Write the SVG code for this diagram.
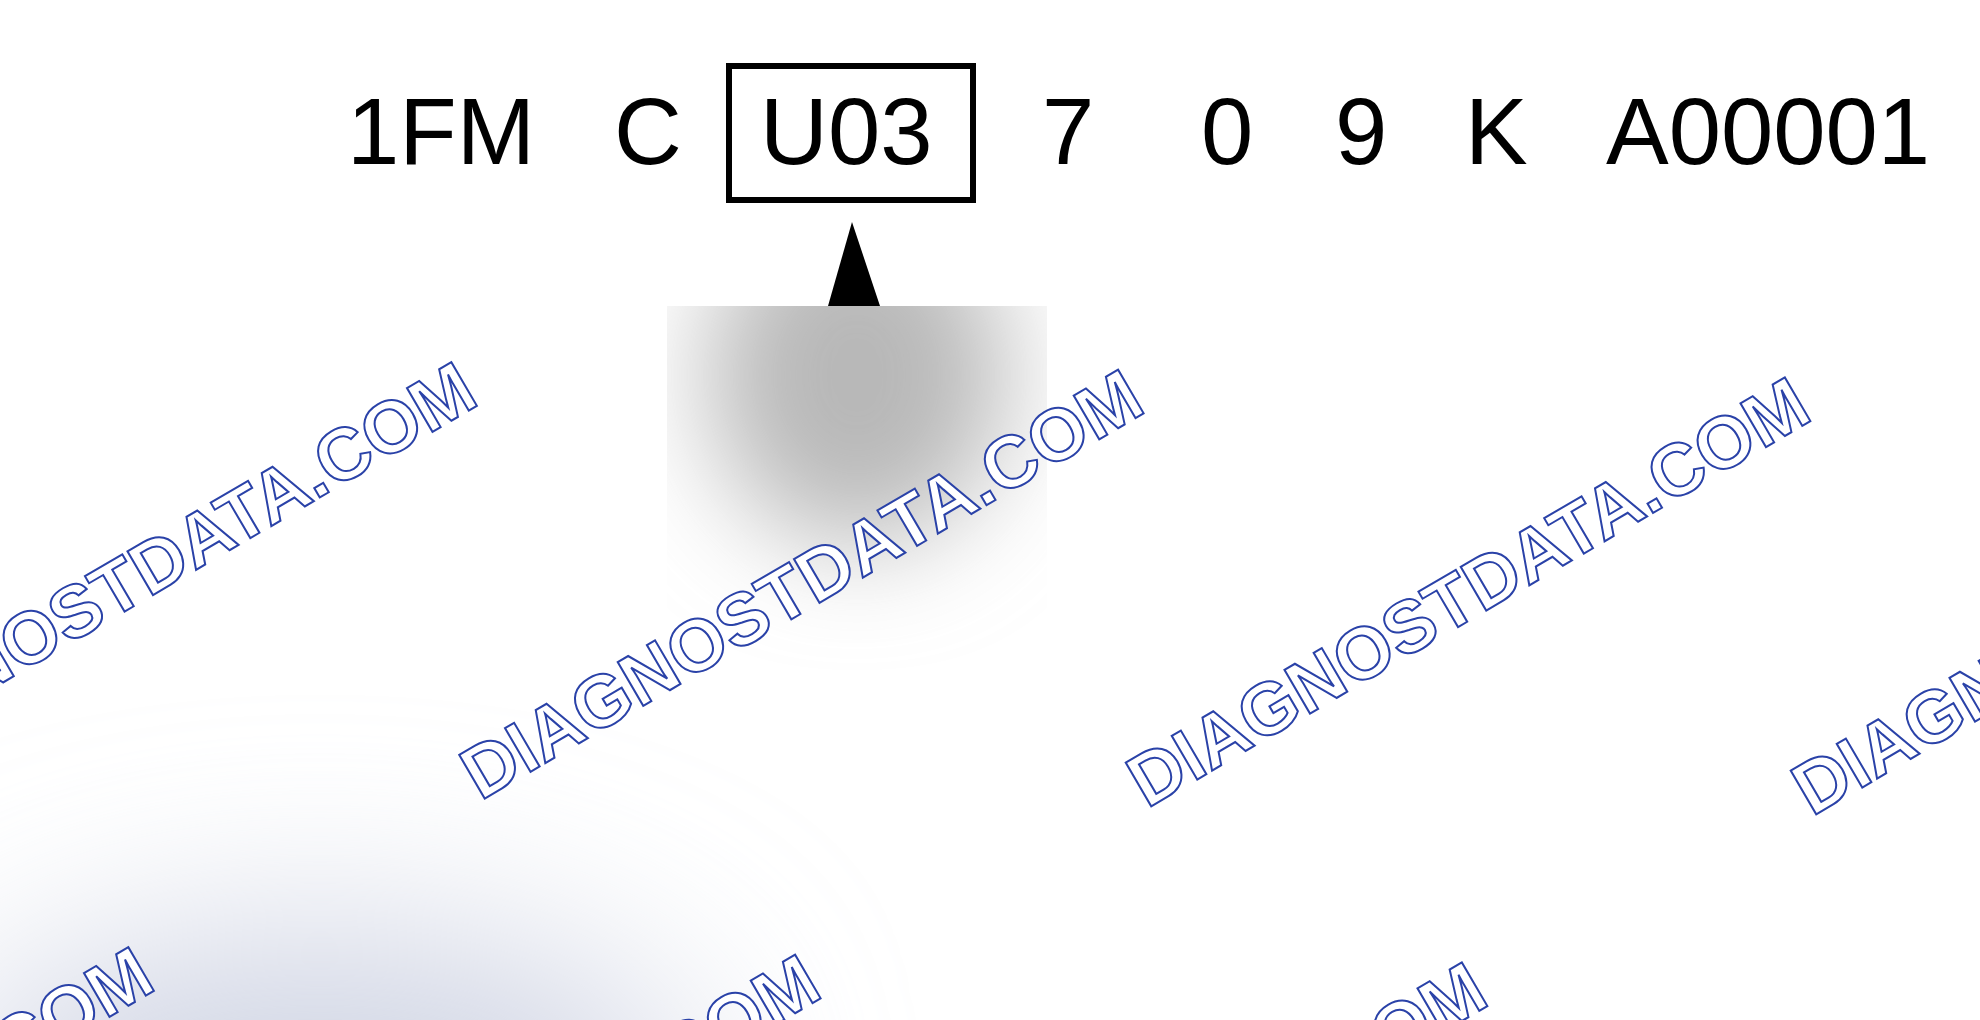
<svg xmlns="http://www.w3.org/2000/svg" width="1980" height="1020" viewBox="0 0 1980 1020">
  <style>
    .vin { font-family: "Liberation Sans", Arial, sans-serif; font-size: 94px; fill: #000; }
    .wm { font-family: "Liberation Sans", Arial, sans-serif; font-size: 73.5px; font-weight: bold; fill: #fff; stroke: #2a42a8; stroke-width: 2px; }
  </style>
  <defs>
    <filter id="blurGray" filterUnits="userSpaceOnUse" x="400" y="0" width="900" height="1000">
      <feGaussianBlur stdDeviation="55"/>
    </filter>
    <filter id="blurBlue" filterUnits="userSpaceOnUse" x="-600" y="300" width="2000" height="1300">
      <feGaussianBlur stdDeviation="100"/>
    </filter>
    <clipPath id="panelClip">
      <rect x="667" y="306" width="380" height="520"/>
    </clipPath>
    <clipPath id="lowerClip">
      <rect x="0" y="306" width="1980" height="714"/>
    </clipPath>
  </defs>

  <rect x="0" y="0" width="1980" height="1020" fill="#ffffff"/>

  <!-- header VIN segments -->
  <g id="seg-1FM"><text class="vin" x="347" y="164">1FM</text></g>
  <g id="seg-C"><text class="vin" x="614" y="164">C</text></g>
  <g id="seg-U03">
    <rect x="729" y="66" width="244" height="134" fill="none" stroke="#000" stroke-width="6"/>
    <text class="vin" x="760" y="164">U03</text>
  </g>
  <g id="seg-7"><text class="vin" x="1042" y="164">7</text></g>
  <g id="seg-0"><text class="vin" x="1201" y="164">0</text></g>
  <g id="seg-9"><text class="vin" x="1335" y="164">9</text></g>
  <g id="seg-K"><text class="vin" x="1465" y="164">K</text></g>
  <g id="seg-A00001"><text class="vin" x="1606" y="164">A00001</text></g>

  <!-- connector: pointer to U03 -->
  <g id="connectors">
    <polygon points="852,222 828,306 880,306" fill="#000"/>
  </g>

  <!-- lower overlay backgrounds -->
  <g id="overlay" clip-path="url(#lowerClip)">
    <ellipse cx="320" cy="1100" rx="380" ry="170" fill="#d0d5e4" filter="url(#blurBlue)"/>
    <g clip-path="url(#panelClip)">
      <ellipse cx="857" cy="375" rx="150" ry="170" fill="#b8b8b8" filter="url(#blurGray)"/>
    </g>
  </g>

  <!-- watermarks -->
  <g id="watermarks">
    <text class="wm" transform="translate(-186.3,793.3) rotate(-30.3)">DIAGNOSTDATA.COM</text>
    <text class="wm" transform="translate(480.4,801) rotate(-30.3)">DIAGNOSTDATA.COM</text>
    <text class="wm" transform="translate(1147.1,808.7) rotate(-30.3)">DIAGNOSTDATA.COM</text>
    <text class="wm" transform="translate(1812.1,816.7) rotate(-30.3)">DIAGNOSTDATA.COM</text>
    <text class="wm" transform="translate(-509.3,1378.3) rotate(-30.3)">DIAGNOSTDATA.COM</text>
    <text class="wm" transform="translate(157.4,1386) rotate(-30.3)">DIAGNOSTDATA.COM</text>
    <text class="wm" transform="translate(824.1,1393.7) rotate(-30.3)">DIAGNOSTDATA.COM</text>
  </g>
</svg>
